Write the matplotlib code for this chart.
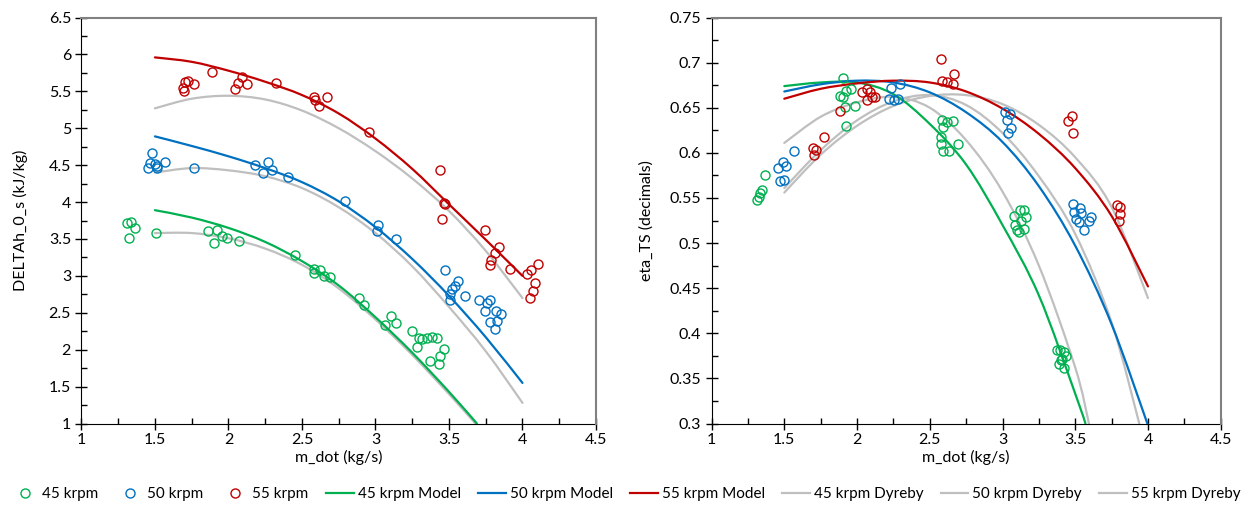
import matplotlib
matplotlib.use("Agg")
import matplotlib.pyplot as plt
from matplotlib.ticker import MultipleLocator, FormatStrFormatter
from matplotlib.lines import Line2D
from matplotlib.path import Path
from matplotlib.patches import PathPatch

plt.rcParams['font.family'] = ['Lato', 'DejaVu Sans']

GREEN = '#00B050'
BLUE = '#0070C0'
RED = '#C00000'
GRAY = '#BFBFBF'

# ---- measured points, left chart (DELTAh_0_s) ----
m45_x = [1.31, 1.335, 1.364, 1.325, 1.51, 1.864, 1.92, 1.90, 1.955, 1.99, 2.075, 2.454, 2.579,
         2.62, 2.579, 2.647, 2.688, 2.885, 2.92, 3.067, 3.106, 3.14, 3.249, 3.294, 3.317, 3.351,
         3.385, 3.42, 3.283, 3.464, 3.442, 3.374, 3.43]
m45_dh = [3.71, 3.73, 3.65, 3.52, 3.58, 3.61, 3.62, 3.45, 3.54, 3.52, 3.47, 3.28, 3.09,
          3.08, 3.04, 3.00, 2.98, 2.70, 2.60, 2.33, 2.45, 2.365, 2.25, 2.16, 2.14, 2.16,
          2.175, 2.156, 2.04, 2.016, 1.92, 1.85, 1.80]

m50_x = [1.478, 1.466, 1.455, 1.50, 1.516, 1.512, 1.569, 1.768, 2.182, 2.272, 2.234, 2.295, 2.402,
         2.79, 3.017, 3.01, 3.142, 3.476, 3.562, 3.544, 3.521, 3.51, 3.505, 3.607, 3.703, 3.76,
         3.778, 3.742, 3.817, 3.851, 3.778, 3.828, 3.81]
m50_dh = [4.668, 4.53, 4.455, 4.51, 4.486, 4.465, 4.546, 4.455, 4.50, 4.546, 4.388, 4.43, 4.337,
          4.01, 3.687, 3.606, 3.493, 3.077, 2.928, 2.86, 2.816, 2.757, 2.68, 2.725, 2.67, 2.635,
          2.68, 2.53, 2.53, 2.49, 2.373, 2.386, 2.274]

m55_x = [1.693, 1.698, 1.705, 1.723, 1.768, 1.887, 2.045, 2.068, 2.091, 2.125, 2.325, 2.584, 2.59,
         2.613, 2.67, 2.953, 3.437, 3.464, 3.471, 3.453, 3.742, 3.839, 3.81, 3.787, 3.778, 3.914,
         4.032, 4.055, 4.107, 4.084, 4.071, 4.05]
m55_dh = [5.549, 5.503, 5.625, 5.638, 5.603, 5.766, 5.535, 5.607, 5.698, 5.603, 5.607, 5.421, 5.377,
          5.30, 5.421, 4.947, 4.432, 3.99, 3.98, 3.774, 3.615, 3.394, 3.313, 3.213, 3.154, 3.096,
          3.02, 3.077, 3.164, 2.906, 2.793, 2.694]

# ---- model / Dyreby curves, left chart ----
grid = [1.5, 1.75, 2.0, 2.25, 2.5, 2.75, 3.0, 3.25, 3.5, 3.75, 4.0]
mod45_x = [1.5, 1.75, 2.0, 2.25, 2.5, 2.75, 3.0, 3.25, 3.5, 3.69]
mod45_dh = [3.89, 3.79, 3.65, 3.46, 3.20, 2.87, 2.44, 1.96, 1.43, 1.0]
dyr45_x = [1.5, 1.75, 2.0, 2.25, 2.5, 2.75, 3.0, 3.25, 3.5, 3.68]
dyr45_dh = [3.58, 3.58, 3.51, 3.37, 3.15, 2.83, 2.41, 1.93, 1.40, 1.0]
mod50_dh = [4.89, 4.76, 4.62, 4.46, 4.27, 4.01, 3.66, 3.23, 2.73, 2.17, 1.55]
dyr50_dh = [4.40, 4.46, 4.43, 4.35, 4.19, 3.93, 3.58, 3.13, 2.58, 1.98, 1.28]
mod55_dh = [5.96, 5.90, 5.78, 5.63, 5.45, 5.20, 4.86, 4.45, 3.97, 3.49, 3.00]
dyr55_dh = [5.27, 5.40, 5.44, 5.39, 5.24, 5.00, 4.69, 4.32, 3.88, 3.34, 2.70]

# ---- measured points, right chart (eta_TS) ----
e45_x = [1.312, 1.323, 1.335, 1.347, 1.369, 1.904, 1.885, 1.904, 1.927, 1.961, 1.915, 1.984, 1.925,
         2.585, 2.62, 2.658, 2.589, 2.574, 2.574, 2.589, 2.631, 2.695,
         3.078, 3.12, 3.147, 3.163, 3.124, 3.083, 3.147, 3.113, 3.102,
         3.372, 3.395, 3.422, 3.439, 3.411, 3.40, 3.388, 3.422]
e45_eta = [0.548, 0.551, 0.555, 0.559, 0.575, 0.683, 0.663, 0.662, 0.669, 0.671, 0.651, 0.652, 0.630,
           0.636, 0.634, 0.635, 0.629, 0.618, 0.610, 0.602, 0.602, 0.610,
           0.530, 0.537, 0.537, 0.529, 0.525, 0.520, 0.516, 0.512, 0.514,
           0.382, 0.382, 0.379, 0.375, 0.372, 0.370, 0.366, 0.361]

e50_x = [1.454, 1.491, 1.514, 1.468, 1.50, 1.564, 2.236, 2.298, 2.218, 2.252, 2.283,
         3.015, 3.049, 3.03, 3.06, 3.037,
         3.487, 3.532, 3.491, 3.542, 3.503, 3.526, 3.606, 3.594, 3.56]
e50_eta = [0.583, 0.590, 0.585, 0.569, 0.570, 0.602, 0.672, 0.676, 0.660, 0.659, 0.660,
           0.645, 0.643, 0.636, 0.627, 0.622,
           0.543, 0.539, 0.535, 0.533, 0.527, 0.523, 0.529, 0.524, 0.514]

e55_x = [1.70, 1.72, 1.705, 1.77, 1.885, 2.035, 2.069, 2.092, 2.069, 2.104, 2.126,
         2.574, 2.581, 2.615, 2.661, 2.665, 3.45, 3.48, 3.484, 3.785, 3.808, 3.808, 3.801]
e55_eta = [0.605, 0.603, 0.598, 0.618, 0.646, 0.667, 0.671, 0.668, 0.659, 0.662, 0.662,
           0.704, 0.680, 0.679, 0.676, 0.687, 0.635, 0.641, 0.622, 0.542, 0.540, 0.532, 0.524]

# ---- model / Dyreby curves, right chart ----
emod45_x = [1.5, 1.75, 2.0, 2.25, 2.5, 2.75, 3.0, 3.25, 3.5, 3.57]
emod45 = [0.674, 0.678, 0.678, 0.665, 0.632, 0.587, 0.520, 0.442, 0.333, 0.30]
edyr45_x = [1.5, 1.75, 2.0, 2.25, 2.5, 2.75, 3.0, 3.25, 3.5, 3.594]
edyr45 = [0.611, 0.640, 0.656, 0.662, 0.650, 0.614, 0.557, 0.475, 0.362, 0.30]
emod50 = [0.668, 0.676, 0.680, 0.678, 0.667, 0.645, 0.612, 0.563, 0.497, 0.410, 0.298]
edyr50_x = [1.5, 1.75, 2.0, 2.25, 2.5, 2.75, 3.0, 3.25, 3.5, 3.75, 3.94]
edyr50 = [0.561, 0.603, 0.636, 0.657, 0.664, 0.653, 0.622, 0.574, 0.510, 0.412, 0.30]
emod55 = [0.660, 0.671, 0.677, 0.680, 0.678, 0.668, 0.649, 0.621, 0.583, 0.530, 0.452]
edyr55 = [0.556, 0.598, 0.630, 0.652, 0.663, 0.664, 0.654, 0.631, 0.595, 0.540, 0.439]


def smooth_line(ax, xs, ys, color, z):
    # Excel-style smoothed line: Bezier segments through the read points
    n = len(xs)
    verts = [(xs[0], ys[0])]
    codes = [Path.MOVETO]
    for i in range(n - 1):
        i0 = max(i - 1, 0)
        i3 = min(i + 2, n - 1)
        c1 = (xs[i] + (xs[i + 1] - xs[i0]) / 6, ys[i] + (ys[i + 1] - ys[i0]) / 6)
        c2 = (xs[i + 1] - (xs[i3] - xs[i]) / 6, ys[i + 1] - (ys[i3] - ys[i]) / 6)
        verts += [c1, c2, (xs[i + 1], ys[i + 1])]
        codes += [Path.CURVE4] * 3
    ax.add_patch(PathPatch(Path(verts, codes), fill=False, edgecolor=color, lw=lw,
                           capstyle='round', joinstyle='round', zorder=z))


fig = plt.figure(figsize=(12.51, 5.08), dpi=100)
ax1 = fig.add_axes([0.0651, 0.1663, 0.4113, 0.7992])
ax2 = fig.add_axes([0.5688, 0.1663, 0.4070, 0.7992])

lw = 1.6
ms = 6.5
mk = dict(ls='none', marker='o', ms=ms, mfc='none', mew=1.0, zorder=4)

# left chart
smooth_line(ax1, dyr45_x, dyr45_dh, GRAY, 2)
smooth_line(ax1, grid, dyr50_dh, GRAY, 2)
smooth_line(ax1, grid, dyr55_dh, GRAY, 2)
smooth_line(ax1, mod45_x, mod45_dh, GREEN, 3)
smooth_line(ax1, grid, mod50_dh, BLUE, 3)
smooth_line(ax1, grid, mod55_dh, RED, 3)
ax1.plot(m45_x, m45_dh, mec=GREEN, **mk)
ax1.plot(m50_x, m50_dh, mec=BLUE, **mk)
ax1.plot(m55_x, m55_dh, mec=RED, **mk)
ax1.set_xlim(1, 4.5)
ax1.set_ylim(1, 6.5)
ax1.xaxis.set_major_locator(MultipleLocator(0.5))
ax1.xaxis.set_minor_locator(MultipleLocator(0.25))
ax1.yaxis.set_major_locator(MultipleLocator(0.5))
ax1.yaxis.set_minor_locator(MultipleLocator(0.25))
ax1.set_xlabel('m_dot (kg/s)', fontsize=11.5, labelpad=2)
ax1.set_ylabel('DELTAh_0_s (kJ/kg)', fontsize=11.5, labelpad=15)

# right chart
smooth_line(ax2, edyr45_x, edyr45, GRAY, 2)
smooth_line(ax2, edyr50_x, edyr50, GRAY, 2)
smooth_line(ax2, grid, edyr55, GRAY, 2)
smooth_line(ax2, emod45_x, emod45, GREEN, 3)
smooth_line(ax2, grid, emod50, BLUE, 3)
smooth_line(ax2, grid, emod55, RED, 3)
ax2.plot(e45_x, e45_eta, mec=GREEN, **mk)
ax2.plot(e50_x, e50_eta, mec=BLUE, **mk)
ax2.plot(e55_x, e55_eta, mec=RED, **mk)
ax2.set_xlim(1, 4.5)
ax2.set_ylim(0.3, 0.75)
ax2.xaxis.set_major_locator(MultipleLocator(0.5))
ax2.xaxis.set_minor_locator(MultipleLocator(0.25))
ax2.yaxis.set_major_locator(MultipleLocator(0.05))
ax2.yaxis.set_minor_locator(MultipleLocator(0.025))
ax2.set_xlabel('m_dot (kg/s)', fontsize=11.5, labelpad=2)
ax2.set_ylabel('eta_TS (decimals)', fontsize=11.5, labelpad=11)

for ax in (ax1, ax2):
    ax.xaxis.set_major_formatter(FormatStrFormatter('%g'))
    ax.yaxis.set_major_formatter(FormatStrFormatter('%g'))
    ax.tick_params(which='major', direction='inout', length=8, width=1, labelsize=11.5, color='black')
    ax.tick_params(which='minor', direction='in', length=4, width=1, color='black')
    ax.tick_params(axis='x', pad=3)
    ax.spines['left'].set_color('black')
    ax.spines['bottom'].set_color('black')
    for s in ('top', 'right'):
        ax.spines[s].set_color('#808080')
        ax.spines[s].set_linewidth(1.5)
        ax.spines[s].set_zorder(5)

handles = [
    Line2D([], [], ls='none', marker='o', ms=ms, mfc='none', mec=GREEN, mew=1.0),
    Line2D([], [], ls='none', marker='o', ms=ms, mfc='none', mec=BLUE, mew=1.0),
    Line2D([], [], ls='none', marker='o', ms=ms, mfc='none', mec=RED, mew=1.0),
    Line2D([], [], color=GREEN, lw=lw),
    Line2D([], [], color=BLUE, lw=lw),
    Line2D([], [], color=RED, lw=lw),
    Line2D([], [], color=GRAY, lw=lw),
    Line2D([], [], color=GRAY, lw=lw),
    Line2D([], [], color=GRAY, lw=lw),
]
labels = ['45 krpm', '50 krpm', '55 krpm', '45 krpm Model', '50 krpm Model', '55 krpm Model',
          '45 krpm Dyreby', '50 krpm Dyreby', '55 krpm Dyreby']
fig.legend(handles, labels, loc='lower center', bbox_to_anchor=(0.5, -0.005), ncol=9,
           frameon=False, fontsize=11, handlelength=1.8, handletextpad=0.25,
           columnspacing=1.15, numpoints=1, borderaxespad=0.2)

fig.savefig('out.png', dpi=100)
